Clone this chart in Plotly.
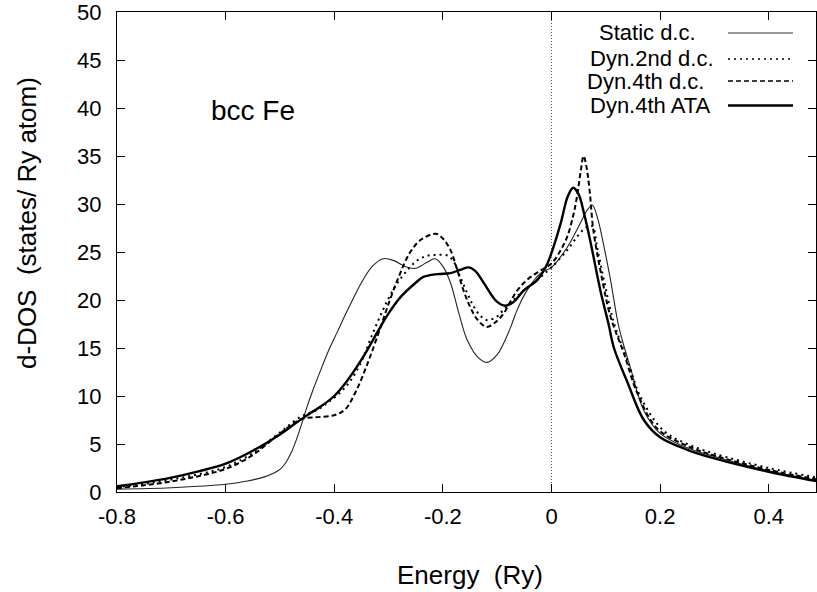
import plotly.graph_objects as go

# ---------------- data ----------------
static_E = [-0.8, -0.7, -0.6, -0.56, -0.53, -0.51, -0.5, -0.49, -0.48, -0.47, -0.46, -0.45, -0.44,
            -0.425, -0.41, -0.395, -0.375, -0.35,
            -0.33, -0.31, -0.29, -0.27, -0.25, -0.23, -0.214, -0.2, -0.186, -0.17, -0.155, -0.135,
            -0.118, -0.1, -0.088, -0.075, -0.063, -0.045, -0.02, 0.0, 0.029, 0.053, 0.065, 0.075,
            0.085, 0.095, 0.109, 0.124, 0.145, 0.17, 0.2, 0.25, 0.3, 0.4, 0.49]
static_D = [0.3, 0.45, 0.8, 1.15, 1.55, 2.0, 2.35, 3.0, 4.0, 5.4, 7.1, 8.9, 10.5,
            12.7, 14.8, 16.6, 19.0, 21.8,
            23.5, 24.3, 24.1, 23.5, 23.3, 23.9, 24.3, 23.5, 21.8, 18.5, 15.8, 14.0,
            13.5, 14.3, 15.5, 17.2, 19.0, 21.0, 22.8, 23.4, 25.5, 28.0, 29.3, 29.9,
            28.5, 26.0, 22.0, 17.2, 13.0, 8.5, 6.1, 4.6, 3.7, 2.2, 1.2]

dyn2_E = [-0.8, -0.75, -0.7, -0.65, -0.6, -0.55, -0.5, -0.46, -0.43, -0.41, -0.39, -0.37, -0.35,
          -0.33, -0.31, -0.29, -0.27, -0.25, -0.23, -0.21, -0.19, -0.178, -0.168, -0.155, -0.143,
          -0.13, -0.118, -0.1, -0.088, -0.07, -0.057, -0.04, -0.02, 0.0, 0.029, 0.053, 0.065,
          0.075, 0.084, 0.096, 0.115, 0.14, 0.164, 0.206, 0.25, 0.3, 0.4, 0.49]
dyn2_D = [0.5, 0.85, 1.3, 1.85, 2.6, 4.05, 6.2, 7.9, 8.6, 9.4, 10.3, 11.6, 13.6,
          16.4, 19.0, 21.2, 22.8, 24.0, 24.6, 24.7, 24.6, 23.8, 22.4, 20.7, 19.3,
          18.3, 17.9, 18.3, 19.0, 20.0, 20.7, 21.5, 22.4, 23.4, 25.2, 27.0, 27.6,
          27.7, 25.5, 22.2, 17.6, 13.7, 9.9, 6.4, 5.0, 4.0, 2.5, 1.5]

dyn4_E = [-0.8, -0.75, -0.7, -0.65, -0.6, -0.55, -0.5, -0.46, -0.43, -0.4, -0.38, -0.36, -0.34,
          -0.32, -0.3, -0.28, -0.26, -0.24, -0.213, -0.2, -0.186, -0.174, -0.162, -0.15, -0.137,
          -0.12, -0.105, -0.088, -0.075, -0.063, -0.045, -0.025, 0.0, 0.015, 0.029, 0.04, 0.047,
          0.054, 0.059, 0.064, 0.07, 0.077, 0.09, 0.109, 0.133, 0.158, 0.195, 0.25, 0.3, 0.4, 0.49]
dyn4_D = [0.4, 0.7, 1.1, 1.65, 2.4, 3.85, 6.1, 7.6, 7.8, 8.0, 8.6, 10.5, 13.2,
          16.3, 19.6, 22.6, 25.0, 26.3, 26.9, 26.4, 25.2, 23.2, 21.0, 19.3, 18.0,
          17.2, 17.6, 18.6, 19.9, 21.0, 22.1, 22.9, 23.8, 25.0, 26.6, 28.8, 30.8,
          33.5, 35.0, 34.0, 31.5, 27.3, 23.1, 18.2, 14.5, 10.3, 6.6, 4.8, 3.8, 2.3, 1.3]

ata_E = [-0.8, -0.75, -0.7, -0.65, -0.6, -0.55, -0.5, -0.475, -0.45, -0.425, -0.4, -0.38, -0.36,
         -0.34, -0.32, -0.3, -0.278, -0.25, -0.236,
         -0.21, -0.186, -0.165, -0.152, -0.14, -0.125, -0.1, -0.085, -0.07, -0.051, -0.026, -0.01,
         0.0, 0.017, 0.03, 0.04, 0.05, 0.06, 0.072, 0.09, 0.105, 0.115, 0.14, 0.17, 0.2, 0.25,
         0.3, 0.4, 0.49]
ata_D = [0.6, 1.0, 1.5, 2.15, 2.95, 4.3, 6.0, 7.0, 8.0, 8.9, 10.0, 11.3, 12.9,
         14.7, 16.7, 18.6, 20.3, 21.8, 22.4,
         22.7, 22.8, 23.2, 23.4, 23.0, 21.8, 19.8, 19.4, 19.8, 21.0, 22.1, 23.5,
         24.9, 28.0, 30.8, 31.7, 31.0, 29.0, 26.0, 21.0, 17.5, 15.0, 11.4, 7.5, 5.7, 4.4,
         3.5, 2.1, 1.1]

series_names = ["Static d.c.", "Dyn.2nd d.c.", "Dyn.4th d.c.", "Dyn.4th ATA"]
x_tick_vals = [-0.8, -0.6, -0.4, -0.2, 0.0, 0.2, 0.4]
x_tick_text = ["-0.8", "-0.6", "-0.4", "-0.2", "0", "0.2", "0.4"]
y_tick_vals = [0, 5, 10, 15, 20, 25, 30, 35, 40, 45, 50]
y_tick_text = ["0", "5", "10", "15", "20", "25", "30", "35", "40", "45", "50"]
fermi_level = 0.0
x_range = [-0.8, 0.487]
y_range = [0, 50]

# ---------------- styling ----------------
FONT = "Liberation Sans, Arial, sans-serif"
W, H = 817, 592
ML, MR, MT, MB = 117, 1, 12, 100
PW, PH = W - ML - MR, H - MT - MB

def px_x(px):
    return (px - ML) / PW

def px_y(py):
    return (H - MB - py) / PH

styles = [
    dict(color="#222222", width=1.1, dash="solid"),
    dict(color="black", width=2.0, dash="2px,4px"),
    dict(color="black", width=2.0, dash="5px,3px"),
    dict(color="black", width=2.4, dash="solid"),
]
data = [(static_E, static_D), (dyn2_E, dyn2_D), (dyn4_E, dyn4_D), (ata_E, ata_D)]

fig = go.Figure()
for (xs, ys), name, st in zip(data, series_names, styles):
    fig.add_trace(go.Scatter(x=xs, y=ys, mode="lines", name=name, showlegend=False,
                             line=dict(color=st["color"], width=st["width"], dash=st["dash"],
                                       shape="spline", smoothing=1.0)))

fig.add_vline(x=fermi_level, line=dict(color="#555555", width=1, dash="1px,2px"), layer="below")

# custom gnuplot-like legend (text right, line sample on right)
leg_y = [33, 59, 81, 105.5]
leg_text_right = [698, 716, 706, 713]
for name, st, ly, tr in zip(series_names, styles, leg_y, leg_text_right):
    fig.add_annotation(x=px_x(tr), y=px_y(ly), xref="paper", yref="paper", text=name,
                       showarrow=False, xanchor="right", yanchor="middle",
                       font=dict(family=FONT, size=22, color="black"))
    fig.add_shape(type="line", xref="paper", yref="paper",
                  x0=px_x(728), x1=px_x(793), y0=px_y(ly), y1=px_y(ly),
                  line=dict(color=st["color"] if st["dash"] != "solid" or st["width"] > 2 else "#777777",
                            width=st["width"] if st["width"] > 2 else 1.6, dash=st["dash"]))

fig.add_annotation(x=px_x(253), y=px_y(110), xref="paper", yref="paper", text="bcc Fe",
                   showarrow=False, xanchor="center", yanchor="middle",
                   font=dict(family=FONT, size=28, color="black"))

fig.add_annotation(x=px_x(470), y=px_y(575), xref="paper", yref="paper", text="Energy  (Ry)",
                   showarrow=False, xanchor="center", yanchor="middle",
                   font=dict(family=FONT, size=26, color="black"))
fig.add_annotation(x=px_x(27), y=px_y(223), xref="paper", yref="paper",
                   text="d-DOS  (states/ Ry atom)", textangle=-90,
                   showarrow=False, xanchor="center", yanchor="middle",
                   font=dict(family=FONT, size=26, color="black"))

axis_common = dict(showline=True, linecolor="black", linewidth=1, mirror="ticks",
                   ticks="inside", ticklen=8, tickwidth=1, tickcolor="black",
                   showgrid=False, zeroline=False, ticklabeloverflow="allow",
                   tickfont=dict(family=FONT, size=22, color="black"))

fig.update_xaxes(range=x_range, tickvals=x_tick_vals, ticktext=x_tick_text,
                 ticklabelstandoff=5, **axis_common)
fig.update_yaxes(range=y_range, tickvals=y_tick_vals, ticktext=y_tick_text,
                 ticklabelstandoff=10, **axis_common)

fig.update_layout(width=W, height=H, margin=dict(l=ML, r=MR, t=MT, b=MB),
                  plot_bgcolor="white", paper_bgcolor="white",
                  font=dict(family=FONT, size=22, color="black"))

fig.write_html("out.html")
